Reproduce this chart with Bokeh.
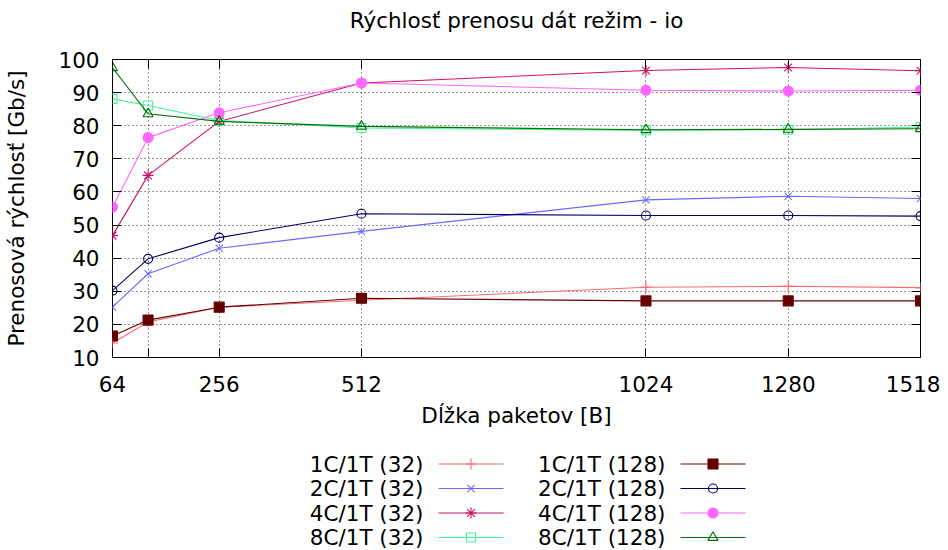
from bokeh.plotting import figure
from bokeh.models import Range1d, LinearAxis, FixedTicker
from bokeh.layouts import column
from bokeh.core.properties import value
from bokeh.embed import file_html
from bokeh.resources import INLINE

# ---- data ----
packet_sizes = [64, 128, 256, 512, 1024, 1280, 1518]
x_tick_values = [64, 128, 256, 512, 1024, 1280, 1518]
x_tick_labels = ["64", "", "256", "512", "1024", "1280", "1518"]
y_tick_values = [10, 20, 30, 40, 50, 60, 70, 80, 90, 100]

c1_32 = [14.4, 20.7, 25.2, 27.3, 31.2, 31.5, 31.1]
c2_32 = [25.2, 35.3, 43.0, 48.1, 57.6, 58.7, 58.0]
c4_32 = [46.8, 65.0, 81.3, 92.9, 96.7, 97.6, 96.6]
c8_32 = [88.1, 86.1, 81.6, 79.3, 78.6, 78.8, 79.6]
c1_128 = [16.5, 21.3, 25.2, 27.9, 27.1, 27.1, 27.1]
c2_128 = [30.2, 39.8, 46.2, 53.4, 52.9, 52.9, 52.7]
c4_128 = [55.4, 76.4, 83.9, 92.9, 90.7, 90.5, 90.7]
c8_128 = [97.5, 83.6, 81.3, 79.8, 78.8, 78.9, 79.1]

series_names = ["1C/1T (32)", "2C/1T (32)", "4C/1T (32)", "8C/1T (32)",
                "1C/1T (128)", "2C/1T (128)", "4C/1T (128)", "8C/1T (128)"]
series_values = [c1_32, c2_32, c4_32, c8_32, c1_128, c2_128, c4_128, c8_128]
title_text = "Rýchlosť prenosu dát režim - io"

# ---- styles ----
colors = ["#ff6a6a", "#6a6aff", "#cc1166", "#44f59c",
          "#660000", "#000066", "#ff66ff", "#007000"]
markers = ["cross", "x", "asterisk", "square", "square", "circle", "circle", "triangle"]
filled = [False, False, False, False, True, False, True, False]
sizes = [11, 10, 11, 9, 10, 9, 10, 10]

FONT = "DejaVu Sans"
FS = "21.5px"

# frame in page pixels: left 112, top 59, right 920, bottom 357
W = 940
TITLE_H = 40
MAIN_H = 390
LEG_H = 120


def pixel_figure(top, height):
    f = figure(width=W, height=height, x_range=Range1d(112, 920),
               y_range=Range1d(top + height, top),
               output_backend="svg", toolbar_location=None,
               min_border_left=112, min_border_right=W - 920, min_border_top=0,
               min_border_bottom=0, x_axis_location=None, y_axis_location=None,
               outline_line_color=None)
    f.grid.visible = False
    return f


# ---- title ----
tfig = pixel_figure(0, TITLE_H)
tfig.text(x=[516], y=[20], text=[title_text], text_align="center", text_baseline="middle",
          text_font=value(FONT), text_font_size=FS, text_color="black")

# ---- main plot ----
p = figure(width=W, height=MAIN_H, x_range=Range1d(64, 1518), y_range=Range1d(10, 100),
           output_backend="svg", toolbar_location=None,
           min_border_left=112, min_border_right=W - 920, min_border_top=59 - TITLE_H,
           min_border_bottom=TITLE_H + MAIN_H - 357)

p.outline_line_color = "black"
p.outline_line_width = 1
p.outline_line_alpha = 1

for ax in [p.xaxis[0], p.yaxis[0]]:
    ax.axis_line_color = None
    ax.major_tick_in = 9
    ax.major_tick_out = 0
    ax.minor_tick_line_color = None
    ax.major_tick_line_color = "black"
    ax.major_label_text_font = FONT
    ax.major_label_text_font_size = FS
    ax.major_label_text_color = "black"
    ax.axis_label_text_font = FONT
    ax.axis_label_text_font_size = FS
    ax.axis_label_text_font_style = "normal"
    ax.axis_label_text_color = "black"

p.xaxis.ticker = FixedTicker(ticks=x_tick_values)
p.xaxis.major_label_overrides = {v: l for v, l in zip(x_tick_values, x_tick_labels)}
p.xaxis.major_label_standoff = 18
p.xaxis.axis_label = "Dĺžka paketov [B]"
p.xaxis.axis_label_standoff = 8

p.yaxis.ticker = FixedTicker(ticks=y_tick_values)
p.yaxis.major_label_standoff = 13
p.yaxis.axis_label = "Prenosová rýchlosť [Gb/s]"
p.yaxis.axis_label_standoff = 26

# mirror ticks (no labels)
right_ax = LinearAxis(ticker=FixedTicker(ticks=y_tick_values),
                      major_label_overrides={v: "" for v in y_tick_values},
                      major_label_standoff=0, axis_line_color=None, major_tick_in=9,
                      major_tick_out=0, minor_tick_line_color=None, major_tick_line_color="black")
top_ax = LinearAxis(ticker=FixedTicker(ticks=x_tick_values),
                    major_label_overrides={v: "" for v in x_tick_values},
                    major_label_standoff=0, axis_line_color=None, major_tick_in=9,
                    major_tick_out=0, minor_tick_line_color=None, major_tick_line_color="black")
p.add_layout(right_ax, "right")
p.add_layout(top_ax, "above")

p.xgrid.ticker = FixedTicker(ticks=x_tick_values)
p.ygrid.ticker = FixedTicker(ticks=y_tick_values)
for g in [p.xgrid[0], p.ygrid[0]]:
    g.grid_line_color = "black"
    g.grid_line_alpha = 0.8
    g.grid_line_dash = "1 3"
    g.grid_line_width = 1

for name, vals, col, mk, fl, sz in zip(series_names, series_values, colors, markers, filled, sizes):
    p.line(packet_sizes, vals, line_color=col, line_width=1.1)
    p.scatter(packet_sizes, vals, marker=mk, size=sz, line_color=col, line_width=1.1,
              fill_color=col if fl else None, fill_alpha=1 if fl else 0)

# ---- legend (its data units are page pixels) ----
leg = pixel_figure(TITLE_H + MAIN_H, LEG_H)
for i, (name, col, mk, fl, sz) in enumerate(zip(series_names, colors, markers, filled, sizes)):
    c = i // 4
    r = i % 4
    tx = 423 + c * 242
    ty = 463.5 + r * 24.5
    leg.text(x=[tx], y=[ty], text=[name], text_align="right", text_baseline="middle",
             text_font=value(FONT), text_font_size=FS, text_color="black")
    leg.line(x=[tx + 15, tx + 80], y=[ty, ty], line_color=col, line_width=1.1)
    leg.scatter(x=[tx + 47.5], y=[ty], marker=mk, size=sz, line_color=col, line_width=1.1,
                fill_color=col if fl else None, fill_alpha=1 if fl else 0)

layout = column(tfig, p, leg, spacing=0)
open("out.html", "w").write(file_html(layout, INLINE))
